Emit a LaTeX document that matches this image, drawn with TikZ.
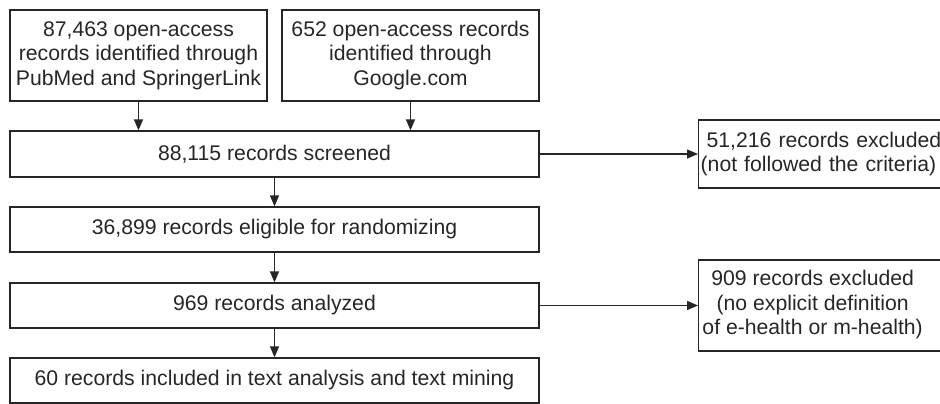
\documentclass[tikz,border=0pt]{standalone}
\usepackage{fontspec}
\setmainfont{Liberation Sans}
\usetikzlibrary{arrows.meta}
\begin{document}
\begin{tikzpicture}[x=1pt,y=-1pt,
  box/.style={draw=black!85,line width=1.3pt,align=center,inner sep=2pt,
    font=\fontsize{21.2}{24.5}\selectfont,text=black!85},
  conn/.style={draw=black!85,line width=1.3pt,-{Triangle[length=11pt,width=9pt]}}]
\useasboundingbox (0,0) rectangle (940,404);
\node[box,minimum width=257,minimum height=91] (a) at (138.5,55.5) {87,463 open-access\\records identified through\\PubMed and SpringerLink};
\node[box,minimum width=257,minimum height=91] (b) at (410.5,55.5) {652 open-access records\\identified through\\Google.com};
\node[box,minimum width=529,minimum height=46] (scr) at (274.5,154) {88,115 records screened};
\node[box,minimum width=529,minimum height=45] (eli) at (274.5,229.5) {36,899 records eligible for randomizing};
\node[box,minimum width=529,minimum height=45] (ana) at (274.5,305.5) {969 records analyzed};
\node[box,minimum width=529,minimum height=45] (fin) at (274.5,380.5) {60 records included in text analysis and text mining};
\node[box,minimum width=250,minimum height=68,text width=246,align=left,inner sep=2pt,anchor=west] (ex1) at (698,154) {\hspace{6pt}51,216 records excluded\\(not followed the criteria)};
\node[box,minimum width=250,minimum height=91,anchor=west] (ex2) at (698,305.5) {\hspace{-22pt}\begin{tabular}{@{}c@{}}909 records excluded\\(no explicit definition\\of e-health or m-health)\end{tabular}};
\draw[conn] (a.south) -- (a.south |- scr.north);
\draw[conn] (b.south) -- (b.south |- scr.north);
\draw[conn] (scr.south) -- (eli.north);
\draw[conn] (eli.south) -- (ana.north);
\draw[conn] (ana.south) -- (fin.north);
\draw[conn] (scr.east) -- (ex1.west);
\draw[conn] (ana.east) -- (ex2.west);
\end{tikzpicture}
\end{document}
